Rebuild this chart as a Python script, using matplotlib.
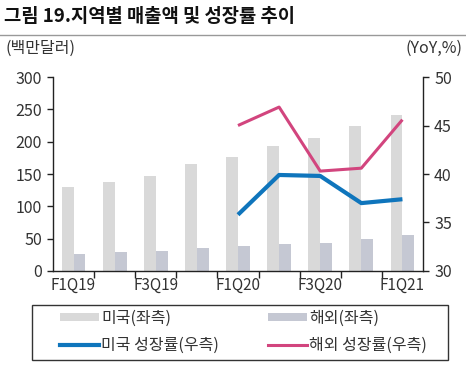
import matplotlib
matplotlib.use("Agg")
import matplotlib.pyplot as plt
from matplotlib.patches import Patch, Rectangle
from matplotlib.lines import Line2D
import numpy as np

plt.rcParams['font.family'] = ['Noto Sans CJK KR', 'DejaVu Sans']

categories = ["F1Q19", "F2Q19", "F3Q19", "F4Q19", "F1Q20", "F2Q20", "F3Q20", "F4Q20", "F1Q21"]
us_sales = [130, 138, 147, 165, 176, 193, 206, 225, 242]
intl_sales = [26, 29, 31, 35, 38, 42, 44, 49, 56]
growth_idx = [4, 5, 6, 7, 8]
us_growth = [35.8, 39.9, 39.8, 37.0, 37.4]
intl_growth = [45.0, 46.9, 40.3, 40.6, 45.6]

title = "그림 19.지역별 매출액 및 성장률 추이"
left_unit = "(백만달러)"
right_unit = "(YoY,%)"
labels = ["미국(좌측)", "해외(좌측)", "미국 성장률(우측)", "해외 성장률(우측)"]

c_us = "#d9d9d9"
c_intl = "#c5c8d3"
c_us_line = "#0f75bc"
c_intl_line = "#d2457e"
txt = "#333333"

W, H = 466, 369
fig = plt.figure(figsize=(W / 100, H / 100), dpi=100)
ax = fig.add_axes([0.1137, 0.2656, 0.7940, 0.5257])
ax2 = ax.twinx()

x = np.arange(len(categories))
w = 0.29
ax.bar(x - w / 2, us_sales, width=w, color=c_us, zorder=2)
ax.bar(x + w / 2, intl_sales, width=w, color=c_intl, zorder=2)
ax2.plot(growth_idx, us_growth, color=c_us_line, lw=3.0, solid_capstyle='butt')
ax2.plot(growth_idx, intl_growth, color=c_intl_line, lw=2.2, solid_capstyle='butt')

ax.set_xlim(-0.5, len(categories) - 0.5)
ax.set_ylim(0, 300)
ax.set_yticks(range(0, 301, 50))
ax2.set_ylim(30, 50)
ax2.set_yticks(range(30, 51, 5))

ax.set_xticks(np.arange(0.5, len(categories) - 0.5, 1))
ax.set_xticklabels([])
ax.set_xticks(x[::2], minor=True)
ax.set_xticklabels(categories[::2], minor=True)
ax.tick_params(axis='x', which='major', length=5, width=1, color='#222222', direction='out')
ax.tick_params(axis='x', which='minor', length=0, pad=4, labelsize=11, labelcolor=txt)
ax.tick_params(axis='y', length=4, width=1, color='#222222', labelsize=11.5, labelcolor=txt, pad=4)
ax2.tick_params(axis='y', length=4, width=1, color='#222222', labelsize=11.5, labelcolor=txt, pad=4)

for a in (ax, ax2):
    a.spines['top'].set_visible(False)
    for s in ('left', 'right', 'bottom'):
        a.spines[s].set_color('#222222')
        a.spines[s].set_linewidth(1)
ax.spines['right'].set_visible(False)
ax2.spines['left'].set_visible(False)
ax2.spines['bottom'].set_visible(False)

fig.text(0.008, 0.955, title, fontsize=13.5, fontweight='bold', color='#111111', va='center', ha='left')
fig.add_artist(Line2D([0, 1], [0.905, 0.905], transform=fig.transFigure, color='#999999', lw=1))
fig.text(0.012, 0.869, left_unit, fontsize=11.5, color=txt, va='center', ha='left')
fig.text(0.992, 0.869, right_unit, fontsize=11.5, color=txt, va='center', ha='right')

# legend frame
fig.add_artist(Rectangle((32 / W, 1 - 360 / H), (448 - 32) / W, 55 / H,
                         transform=fig.transFigure, fill=False, edgecolor='#333333', lw=1))

h_us = Patch(facecolor=c_us, edgecolor='none')
h_intl = Patch(facecolor=c_intl, edgecolor='none')
h_usl = Line2D([], [], color=c_us_line, lw=3)
h_intll = Line2D([], [], color=c_intl_line, lw=2.2)

common = dict(loc='upper left', frameon=False, fontsize=11.5, handlelength=2.45,
              handleheight=0.4, handletextpad=0.12, borderpad=0, borderaxespad=0,
              labelspacing=0.6, labelcolor=txt)
leg1 = fig.legend([h_us, h_usl], [labels[0], labels[2]],
                  bbox_to_anchor=(60 / W, 1 - 310 / H), **common)
leg2 = fig.legend([h_intl, h_intll], [labels[1], labels[3]],
                  bbox_to_anchor=(268 / W, 1 - 310 / H), **common)

fig.savefig("out.png", dpi=100)
